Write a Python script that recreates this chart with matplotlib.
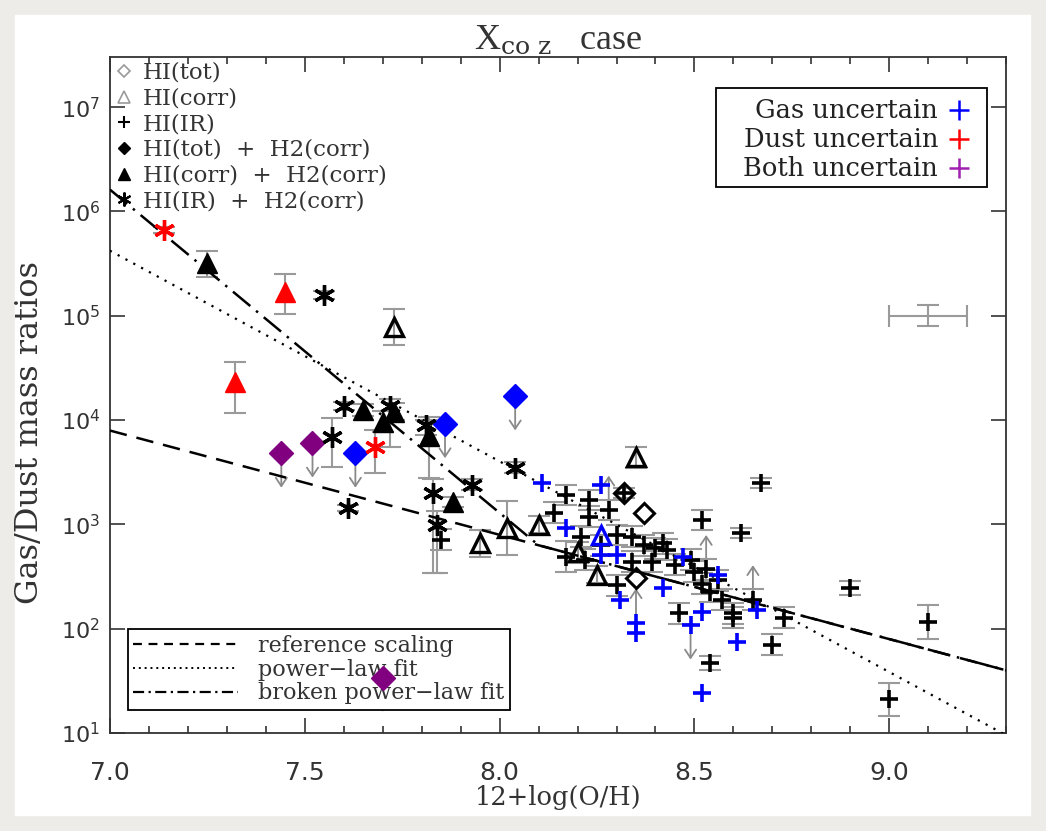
import numpy as np
import matplotlib.pyplot as plt
from matplotlib.lines import Line2D
from matplotlib.patches import Rectangle
from matplotlib.ticker import MultipleLocator, FixedLocator, NullLocator, LogFormatterMathtext

plt.rcParams['font.family'] = ['DejaVu Serif']
plt.rcParams['mathtext.fontset'] = 'dejavuserif'

# HI(IR) only, black plus, error in dex
plus_oh = [8.17, 8.23, 8.14, 8.23, 8.28, 8.21, 8.30, 8.34, 8.17, 8.22, 8.34,
           8.40, 8.42, 8.39, 8.43, 8.30, 8.50, 8.53, 8.52, 8.56, 8.54, 8.57,
           8.46, 8.60, 8.60, 8.65, 8.52, 8.62, 8.67, 8.73, 8.70, 8.54, 8.90,
           9.10, 9.00, 7.85, 8.32, 8.49, 8.37, 8.26, 8.45]
plus_gdr = [1910, 1710, 1290, 1180, 1370, 760, 790, 760, 490, 460, 440,
            590, 660, 440, 570, 260, 350, 370, 270, 290, 225, 190,
            140, 140, 127, 190, 1100, 830, 2500, 127, 70, 47, 245,
            116, 21, 710, 2000, 456, 630, 630, 410]
plus_err = [0.10, 0.10, 0.10, 0.10, 0.10, 0.10, 0.10, 0.10, 0.15, 0.10, 0.10,
            0.10, 0.10, 0.10, 0.10, 0.10, 0.10, 0.10, 0.10, 0.10, 0.10, 0.10,
            0.10, 0.10, 0.10, 0.10, 0.10, 0.05, 0.05, 0.10, 0.10, 0.07, 0.07,
            0.16, 0.16, 0.10, 0.05, 0.10, 0.10, 0.10, 0.10]

# gas uncertain, HI(IR) (blue plus)
bplus_oh = [8.11, 8.26, 8.17, 8.26, 8.30, 8.47, 8.56, 8.66, 8.31, 8.42,
            8.35, 8.35, 8.49, 8.52, 8.61, 8.52]
bplus_gdr = [2500, 2400, 930, 510, 510, 490, 330, 150, 190, 245,
             114, 91, 108, 145, 74, 24]

# HI(corr) open triangles
tri_oh = [7.73, 7.95, 8.02, 8.10, 8.35, 8.20, 8.25]
tri_gdr = [78000, 660, 925, 990, 4400, 540, 330]
tri_err = [0.17, 0.13, 0.26, 0.08, 0.10, 0.10, 0.08]
btri_oh = [8.26]
btri_gdr = [790]

# HI(tot) open diamonds
dia_oh = [8.32, 8.37, 8.35]
dia_gdr = [2000, 1290, 306]

# HI(tot) + H2(corr) filled diamonds (upper limits)
fdia_oh = [7.44, 7.52, 7.70, 7.63, 7.86, 8.04]
fdia_gdr = [4800, 6000, 34, 4800, 9200, 17000]
fdia_col = ['purple', 'purple', 'purple', 'blue', 'blue', 'blue']

# HI(corr) + H2(corr) filled triangles
ftri_oh = [7.25, 7.65, 7.73, 7.70, 7.82, 7.88, 7.45, 7.32]
ftri_gdr = [320000, 12500, 12000, 9600, 7000, 1640, 169000, 23000]
ftri_lo = [0.13, 0.06, 0.08, 0.10, 0.40, 0.05, 0.21, 0.29]
ftri_hi = [0.12, 0.06, 0.08, 0.10, 0.18, 0.05, 0.17, 0.19]
ftri_col = ['k', 'k', 'k', 'k', 'k', 'k', 'red', 'red']

# HI(IR) + H2(corr) asterisks
ast_oh = [7.55, 7.60, 7.72, 7.57, 7.81, 8.04, 7.93, 7.83, 7.61, 7.84, 7.14, 7.68]
ast_gdr = [158000, 13600, 13600, 6900, 9000, 3500, 2400, 2000, 1440, 990, 665000, 5500]
ast_lo = [0.04, 0.04, 0.39, 0.29, 0.10, 0.05, 0.05, 0.77, 0.03, 0.46, 0.03, 0.25]
ast_hi = [0.04, 0.04, 0.07, 0.18, 0.05, 0.05, 0.05, 0.13, 0.03, 0.13, 0.03, 0.16]
ast_col = ['k', 'k', 'k', 'k', 'k', 'k', 'k', 'k', 'k', 'k', 'red', 'red']

# limits
lower_oh = [8.28, 8.53, 8.65, 8.35]
lower_gdr = [1370, 370, 190, 114]
upper_oh = fdia_oh + [8.49]
upper_gdr = fdia_gdr + [108]

# typical error bar
typ_oh, typ_gdr, typ_xerr, typ_dex = 9.1, 1e5, 0.1, 0.1

# fits (Xco,Z case)
oh_sun = 8.69
ref_gdr_sun = 162.0
pl_a, pl_alpha = 2.21, 2.02
bpl_a, bpl_ahi, bpl_alo, bpl_xt = 2.21, 1.00, 3.10, 8.10

y_ticks = [1e1, 1e2, 1e3, 1e4, 1e5, 1e6, 1e7]

unc_labels = ['Gas uncertain', 'Dust uncertain', 'Both uncertain']
unc_colors = ['blue', 'red', '#a020b0']

EBAR = '#9a9a9a'


def dex(y, lo, hi):
    y = np.asarray(y, float)
    return [y - y * 10 ** -np.asarray(lo), y * 10 ** np.asarray(hi) - y]


fig = plt.figure(figsize=(10.46, 8.31), dpi=100, facecolor='#eeece8')
fig.patches.append(Rectangle((15 / 1046, 16 / 831), 1015 / 1046, 800 / 831,
                             transform=fig.transFigure, color='white', zorder=-5))
ax = fig.add_axes([0.105, 0.118, 0.857, 0.813])

# fit lines
xx = np.linspace(7.0, 9.3, 300)
ax.plot(xx, ref_gdr_sun * 10 ** (oh_sun - xx), color='k', lw=1.8, ls=(0, (7, 4)), zorder=3)
ax.plot(xx, 10 ** (pl_a + pl_alpha * (oh_sun - xx)), color='k', lw=1.6, ls=(0, (1, 3)), zorder=3)
b_lo = bpl_a + bpl_ahi * (oh_sun - bpl_xt) - bpl_alo * (oh_sun - bpl_xt)
bpl = np.where(xx > bpl_xt, bpl_a + bpl_ahi * (oh_sun - xx), b_lo + bpl_alo * (oh_sun - xx))
ax.plot(xx, 10 ** bpl, color='k', lw=1.8, ls=(0, (9, 3, 1, 3)), zorder=3)

# error bars
eb = dict(fmt='none', ecolor=EBAR, elinewidth=1.5, capsize=8, capthick=1.5, zorder=2)
ax.errorbar(plus_oh, plus_gdr, yerr=dex(plus_gdr, plus_err, plus_err), **eb)
ax.errorbar(tri_oh, tri_gdr, yerr=dex(tri_gdr, tri_err, tri_err), **eb)
ax.errorbar(ftri_oh, ftri_gdr, yerr=dex(ftri_gdr, ftri_lo, ftri_hi), **eb)
ax.errorbar(ast_oh, ast_gdr, yerr=dex(ast_gdr, ast_lo, ast_hi), **eb)
ax.errorbar([typ_oh], [typ_gdr], xerr=[typ_xerr], yerr=dex([typ_gdr], typ_dex, typ_dex), **eb)

# limit arrows
arr = dict(arrowstyle='->,head_length=0.6,head_width=0.4', color='#8a8a8a', lw=1.3,
           shrinkA=0, shrinkB=0)
for x, y in zip(upper_oh, upper_gdr):
    ax.annotate('', xy=(x, y * 10 ** -0.33), xytext=(x, y), arrowprops=arr, zorder=1)
for x, y in zip(lower_oh, lower_gdr):
    ax.annotate('', xy=(x, y * 10 ** 0.33), xytext=(x, y), arrowprops=arr, zorder=1)

# markers
ax.plot(plus_oh, plus_gdr, ls='none', marker='+', ms=13, mew=2.6, color='k', zorder=4)
ax.plot(bplus_oh, bplus_gdr, ls='none', marker='+', ms=13, mew=2.6, color='blue', zorder=4)
ax.plot(tri_oh, tri_gdr, ls='none', marker='^', ms=13, mew=2.4, mfc='none', mec='k', zorder=4)
ax.plot(btri_oh, btri_gdr, ls='none', marker='^', ms=13, mew=2.4, mfc='none', mec='blue', zorder=4)
ax.plot(dia_oh, dia_gdr, ls='none', marker='D', ms=10, mew=2.2, mfc='none', mec='k', zorder=4)
for x, y, c in zip(fdia_oh, fdia_gdr, fdia_col):
    ax.plot(x, y, marker='D', ms=12, color=c, mec=c, zorder=4)
for x, y, c in zip(ftri_oh, ftri_gdr, ftri_col):
    ax.plot(x, y, marker='^', ms=15, color=c, mec=c, zorder=4)
for x, y, c in zip(ast_oh, ast_gdr, ast_col):
    ax.plot(x, y, marker=(6, 2, 0), ms=15, mew=2.4, color=c, zorder=4)

# axes
ax.set_yscale('log')
ax.set_xlim(7.0, 9.3)
ax.set_ylim(10, 3.0e7)
ax.xaxis.set_major_locator(MultipleLocator(0.5))
ax.xaxis.set_minor_locator(MultipleLocator(0.1))
ax.yaxis.set_major_locator(FixedLocator(y_ticks))
ax.yaxis.set_major_formatter(LogFormatterMathtext())
ax.yaxis.set_minor_locator(NullLocator())
ax.tick_params(which='both', direction='in', top=True, right=True, colors='#333333',
               labelsize=16, width=1.2)
ax.tick_params(which='major', length=11)
ax.tick_params(which='minor', length=5)
ax.tick_params(axis='x', pad=20, labelsize=18)
ax.tick_params(axis='y', pad=7)
for tl in ax.get_xticklabels() + ax.get_yticklabels():
    tl.set_family('DejaVu Sans')
for s in ax.spines.values():
    s.set_linewidth(1.3)
    s.set_color('#333333')

ax.set_xlabel('12+log(O/H)', fontsize=18.5, color='#333333', labelpad=0)
ax.set_ylabel('Gas/Dust mass ratios', fontsize=23, color='#333333')
ax.yaxis.set_label_coords(-0.072, 0.445)
ax.set_title(r'X$_{\rm co\ z}$   case', fontsize=26, color='#333333', pad=6,
             family='Liberation Serif')

# legend: data types
g = '#9a9a9a'
h1 = [Line2D([], [], ls='none', marker='D', ms=6, mfc='none', mec=g, mew=1.2),
      Line2D([], [], ls='none', marker='^', ms=8, mfc='none', mec=g, mew=1.2),
      Line2D([], [], ls='none', marker='+', ms=9, mew=1.5, color='k'),
      Line2D([], [], ls='none', marker='D', ms=6, color='k'),
      Line2D([], [], ls='none', marker='^', ms=8, color='k'),
      Line2D([], [], ls='none', marker=(6, 2, 0), ms=10, mew=1.5, color='k')]
l1 = ['HI(tot)', 'HI(corr)', 'HI(IR)', 'HI(tot)  +  H2(corr)',
      'HI(corr)  +  H2(corr)', 'HI(IR)  +  H2(corr)']
leg1 = ax.legend(h1, l1, loc='upper left', bbox_to_anchor=(0.0, 1.0), frameon=False,
                 fontsize=16.5, handlelength=0.8, handletextpad=0.45, labelspacing=0.16,
                 borderaxespad=0.05, borderpad=0.15, labelcolor='#333333')
ax.add_artist(leg1)

# uncertainty box (right-aligned labels, colored plus on the right)
ax.add_patch(Rectangle((0.676, 0.808), 0.302, 0.146, transform=ax.transAxes,
                       facecolor='white', edgecolor='k', lw=1.3, zorder=5))
for i, (lab, c) in enumerate(zip(unc_labels, unc_colors)):
    yy = 0.922 - i * 0.043
    ax.text(0.924, yy, lab, transform=ax.transAxes, ha='right', va='center',
            fontsize=18.5, color='#222222', zorder=6)
    ax.plot(0.947, yy, transform=ax.transAxes, marker='+', ms=14, mew=1.8, color=c,
            zorder=6, clip_on=False)

# legend: fits
h3 = [Line2D([], [], color='k', lw=1.6, ls=(0, (4, 3))),
      Line2D([], [], color='k', lw=1.4, ls=(0, (1, 2))),
      Line2D([], [], color='k', lw=1.6, ls=(0, (5, 2, 1, 2)))]
l3 = ['reference scaling', 'power\u2212law fit', 'broken power\u2212law fit']
leg3 = ax.legend(h3, l3, loc='lower left', bbox_to_anchor=(0.02, 0.034), fancybox=False,
                 edgecolor='k', framealpha=1, fontsize=16, handlelength=4.7,
                 handletextpad=0.9, labelspacing=0.08, borderaxespad=0, borderpad=0.25,
                 labelcolor='#333333')
leg3.get_frame().set_linewidth(1.3)
leg3.set_zorder(1)

fig.savefig('out.png', dpi=100, facecolor=fig.get_facecolor())
